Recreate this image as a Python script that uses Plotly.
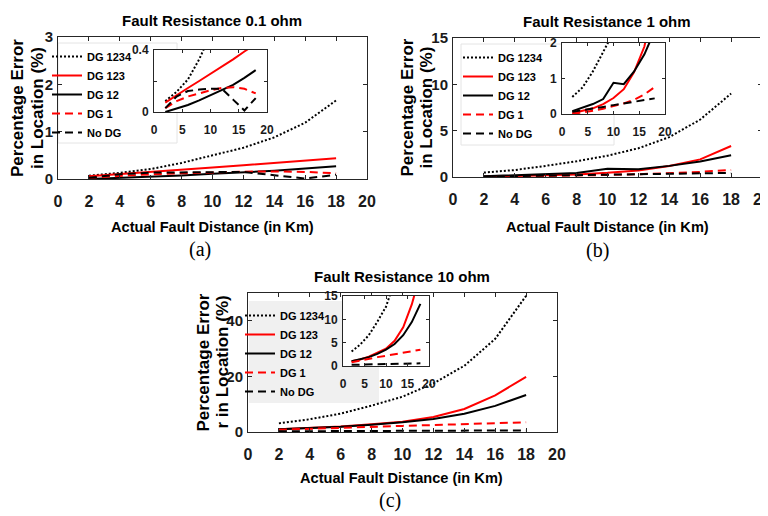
import plotly.graph_objects as go

# The page body has an 8px margin, so the figure is drawn 8px smaller
# and every reference pixel position is shifted by that margin.
PAGE_W, PAGE_H, BODY_MARGIN = 768, 516, 8
W, H = PAGE_W - BODY_MARGIN, PAGE_H - BODY_MARGIN

# ---------------- data ----------------
distance_km = [2, 4, 6, 8, 10, 12, 14, 16, 18]
series_names = ["DG 1234", "DG 123", "DG 12", "DG 1", "No DG"]

# Fault resistance 0.1 ohm
r01_dg1234 = [0.07, 0.13, 0.21, 0.34, 0.50, 0.66, 0.88, 1.19, 1.66]
r01_dg123 = [0.06, 0.11, 0.155, 0.20, 0.245, 0.29, 0.34, 0.39, 0.44]
r01_dg12 = [0.0, 0.02, 0.045, 0.075, 0.11, 0.14, 0.175, 0.22, 0.27]
r01_dg1 = [0.025, 0.07, 0.10, 0.12, 0.14, 0.155, 0.16, 0.15, 0.12]
r01_nodg = [0.025, 0.10, 0.135, 0.145, 0.15, 0.15, 0.08, 0.01, 0.09]

# Fault resistance 1 ohm
r1_dg1234 = [0.48, 0.75, 1.2, 1.7, 2.3, 3.1, 4.3, 6.2, 9.0]
r1_dg123 = [0.02, 0.08, 0.16, 0.28, 0.45, 0.70, 1.18, 1.90, 3.35]
r1_dg12 = [0.08, 0.17, 0.28, 0.42, 0.88, 0.84, 1.20, 1.68, 2.35]
r1_dg1 = [0.0, 0.04, 0.09, 0.15, 0.22, 0.30, 0.40, 0.55, 0.76]
r1_nodg = [0.06, 0.10, 0.15, 0.20, 0.25, 0.30, 0.35, 0.40, 0.44]

# Fault resistance 10 ohm
r10_dg1234 = [3.1, 4.6, 6.6, 9.5, 12.7, 17.5, 23.8, 33.5, 49.0]
r10_dg123 = [1.0, 1.4, 2.0, 2.8, 3.7, 5.4, 8.3, 13.2, 19.8]
r10_dg12 = [1.0, 1.4, 1.9, 2.6, 3.5, 4.7, 6.6, 9.4, 13.3]
r10_dg1 = [0.8, 1.2, 1.6, 1.9, 2.2, 2.5, 2.8, 3.1, 3.5]
r10_nodg = [0.25, 0.30, 0.35, 0.38, 0.42, 0.45, 0.50, 0.53, 0.58]

panel_titles = ["Fault Resistance 0.1 ohm", "Fault Resistance 1 ohm", "Fault Resistance 10 ohm"]
panel_letters = ["(a)", "(b)", "(c)"]
x_title = "Actual Fault Distance (in Km)"
y_title_lines = [["Percentage Error", "in Location (%)"],
                 ["Percentage Error", "in Location (%)"],
                 ["Percentage Error", "r in Location (%)"]]

main_x_ticks = [0, 2, 4, 6, 8, 10, 12, 14, 16, 18, 20]
main_y_ticks = [[0, 1, 2, 3], [0, 5, 10, 15], [0, 20, 40]]
main_y_range = [[0, 3], [0, 15], [0, 50]]
inset_x_ticks = [0, 5, 10, 15, 20]
inset_y_ticks = [[0, 0.2, 0.4], [0, 1, 2], [0, 5, 10, 15]]
inset_y_labels = [["0", "", "0.4"], ["0", "1", "2"], ["0", "5", "10", "15"]]
inset_y_range = [[0, 0.4], [0, 2], [0, 15]]

panel_data = [
    [r01_dg1234, r01_dg123, r01_dg12, r01_dg1, r01_nodg],
    [r1_dg1234, r1_dg123, r1_dg12, r1_dg1, r1_nodg],
    [r10_dg1234, r10_dg123, r10_dg12, r10_dg1, r10_nodg],
]

# ---------------- styles ----------------
series_color = ["#000000", "#ff0000", "#000000", "#ff0000", "#000000"]
series_dash = ["2px,2px", "solid", "solid", "8px,5px", "8px,5px"]

FONT = "Liberation Sans, Arial, sans-serif"
SERIF = "Liberation Serif, Times New Roman, serif"
AXC = "#262626"


def fx(px):
    return (px - BODY_MARGIN) / W


def fy(py):
    return 1 - (py - BODY_MARGIN) / H


# reference pixel boxes [left, top, right, bottom]
main_box = [[58, 37, 367, 179], [453, 38, 762, 177], [248, 293, 557, 432]]
inset_box = [[154, 50, 267, 112], [562, 43, 665, 114], [343, 296, 429, 366]]
legend_box = [[58, 43, 177, 143], [461, 44, 614, 145], [249, 301, 379, 403]]
legend_fill = ["#ffffff", "#ffffff", "#f0f0f0"]
legend_line = ["#e4e4e4", "#e4e4e4", "rgba(0,0,0,0)"]
legend_pos = [[47, 42], [458, 43], [240, 301]]
title_pos = [[212, 21], [607, 22], [402, 276]]
xtitle_pos = [[212, 227], [607, 227], [402, 478]]
letter_pos = [[200, 249], [597, 250], [390, 500]]
ytitle_x = [[18, 38], [407, 426], [203, 222]]
legend_ids = ["legend", "legend2", "legend3"]

fig = go.Figure()
layout = dict(
    template="none",
    width=W, height=H,
    margin=dict(l=0, r=0, t=0, b=0, pad=0),
    paper_bgcolor="white", plot_bgcolor="white",
    showlegend=True,
    annotations=[], shapes=[],
)


def axis_common(size):
    return dict(
        automargin=False,
        showline=True, mirror="ticks", linecolor=AXC, linewidth=1,
        ticks="inside", ticklen=4, tickcolor=AXC, tickwidth=1,
        showgrid=False, zeroline=False, ticklabeloverflow="allow",
        tickfont=dict(family=FONT, size=size, color="#1a1a1a", weight="bold"),
    )


for p in range(3):
    mx = 2 * p + 1
    ix = 2 * p + 2
    mxn = "x" if mx == 1 else f"x{mx}"
    myn = "y" if mx == 1 else f"y{mx}"
    ixn, iyn = f"x{ix}", f"y{ix}"

    for s in range(5):
        fig.add_trace(go.Scatter(
            x=distance_km, y=panel_data[p][s], mode="lines",
            name=series_names[s], xaxis=mxn, yaxis=myn,
            legend=legend_ids[p],
            line=dict(color=series_color[s], width=2, dash=series_dash[s]),
        ))
    for s in range(5):
        fig.add_trace(go.Scatter(
            x=distance_km, y=panel_data[p][s], mode="lines",
            name=series_names[s], xaxis=ixn, yaxis=iyn, showlegend=False,
            line=dict(color=series_color[s], width=2, dash=series_dash[s]),
        ))

    L, T, R, B = main_box[p]
    xa = axis_common(16)
    xa.update(domain=[fx(L), fx(R)], range=[0, 20], tickvals=main_x_ticks,
              anchor=myn, ticklabelstandoff=8)
    ya = axis_common(15)
    ya.update(domain=[fy(B), fy(T)], range=main_y_range[p], tickvals=main_y_ticks[p],
              anchor=mxn, ticklabelstandoff=1)
    layout["xaxis" if mx == 1 else f"xaxis{mx}"] = xa
    layout["yaxis" if mx == 1 else f"yaxis{mx}"] = ya

    L2, T2, R2, B2 = inset_box[p]
    xi = axis_common(12)
    xi.update(domain=[fx(L2), fx(R2)], range=[0, 20], tickvals=inset_x_ticks,
              anchor=iyn, ticklabelstandoff=7, ticklen=3)
    yi = axis_common(12)
    yi.update(domain=[fy(B2), fy(T2)], range=inset_y_range[p], tickvals=inset_y_ticks[p],
              ticktext=inset_y_labels[p], anchor=ixn, ticklabelstandoff=2, ticklen=3)
    layout[f"xaxis{ix}"] = xi
    layout[f"yaxis{ix}"] = yi

    # legend background box
    lL, lT, lR, lB = legend_box[p]
    layout["shapes"].append(dict(
        type="rect", xref="paper", yref="paper", layer="below",
        x0=fx(lL), x1=fx(lR), y0=fy(lB), y1=fy(lT),
        fillcolor=legend_fill[p], line=dict(color=legend_line[p], width=1),
    ))

    lx, ly = legend_pos[p]
    layout[legend_ids[p]] = dict(
        x=fx(lx), y=fy(ly), xanchor="left", yanchor="top",
        bgcolor="rgba(0,0,0,0)", borderwidth=0,
        font=dict(family=FONT, size=11, color="#000000", weight="bold"),
        itemwidth=30, tracegroupgap=0,
    )

    tx, ty = title_pos[p]
    layout["annotations"].append(dict(
        text=panel_titles[p], x=fx(tx), y=fy(ty), xref="paper", yref="paper",
        showarrow=False, xanchor="center", yanchor="middle",
        font=dict(family=FONT, size=15, color="#000000", weight="bold"),
    ))
    xx, xy = xtitle_pos[p]
    layout["annotations"].append(dict(
        text=x_title, x=fx(xx), y=fy(xy), xref="paper", yref="paper",
        showarrow=False, xanchor="center", yanchor="middle",
        font=dict(family=FONT, size=14.6, color="#000000", weight="bold"),
    ))
    cx, cy = letter_pos[p]
    layout["annotations"].append(dict(
        text=panel_letters[p], x=fx(cx), y=fy(cy), xref="paper", yref="paper",
        showarrow=False, xanchor="center", yanchor="middle",
        font=dict(family=SERIF, size=20, color="#000000"),
    ))
    ymid = (T + B) / 2
    for k, line_text in enumerate(y_title_lines[p]):
        layout["annotations"].append(dict(
            text=line_text, x=fx(ytitle_x[p][k]), y=fy(ymid), xref="paper", yref="paper",
            showarrow=False, xanchor="center", yanchor="middle", textangle=-90,
            font=dict(family=FONT, size=17, color="#000000", weight="bold"),
        ))

fig.update_layout(**layout)
fig.write_html("out.html")
